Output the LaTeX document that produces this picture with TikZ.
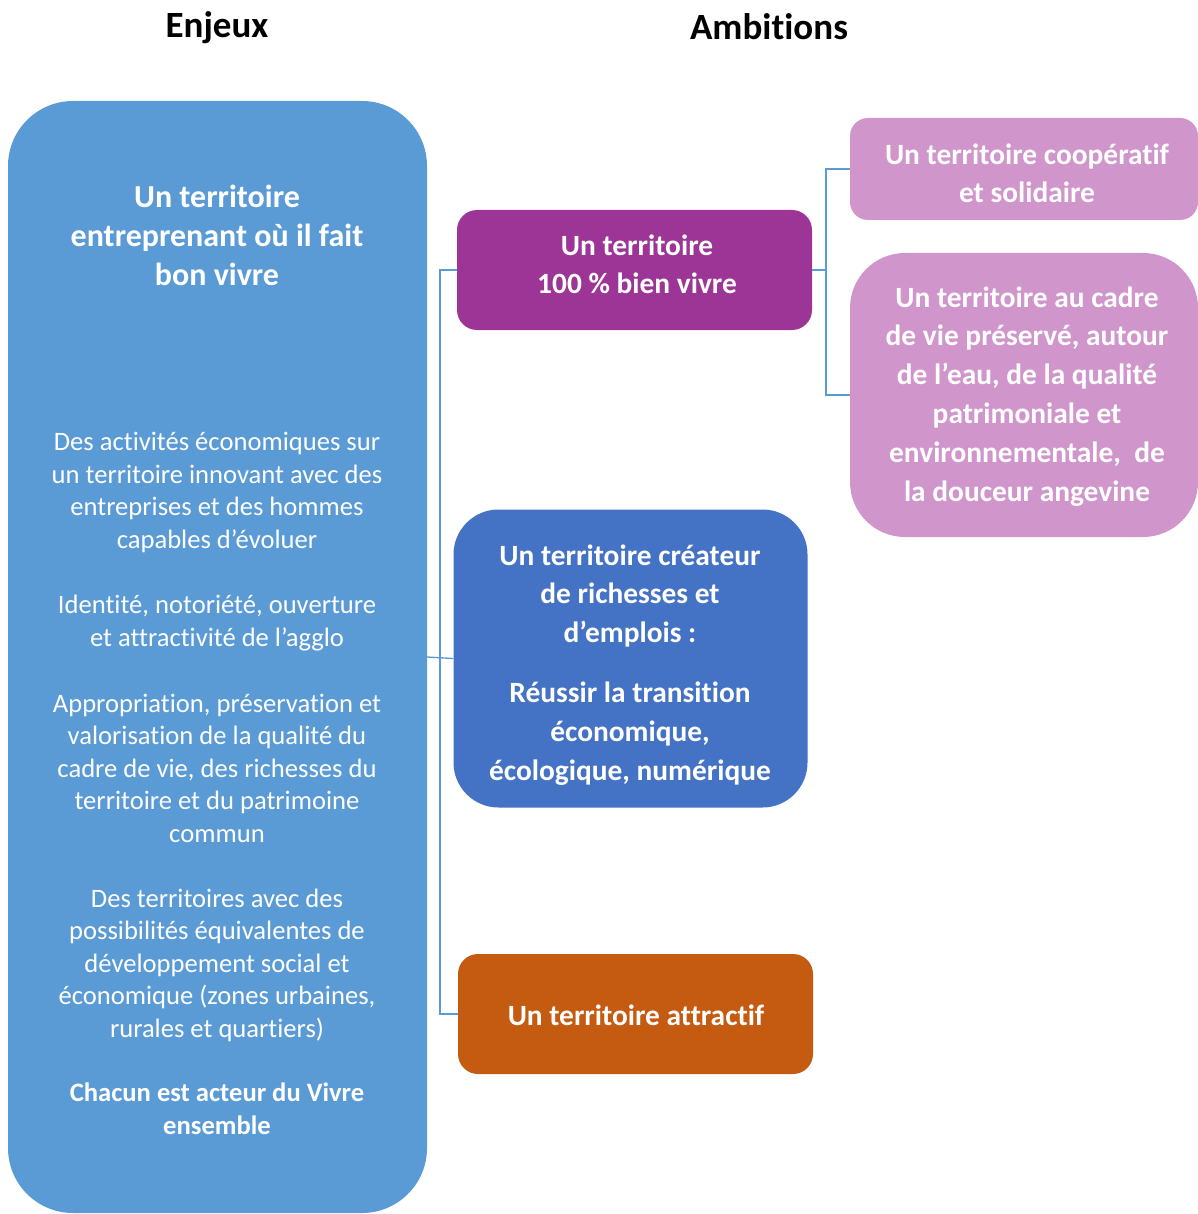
\documentclass[tikz,border=0pt]{standalone}
\usepackage{fontspec}
\setmainfont{Carlito}[Ligatures=CommonOff]
\usetikzlibrary{positioning}
\definecolor{enjeuBlue}{HTML}{5B9BD5}
\definecolor{vivrePurple}{HTML}{9C3595}
\definecolor{coopPink}{HTML}{D095CB}
\definecolor{richBlue}{HTML}{4472C4}
\definecolor{attrOrange}{HTML}{C55A11}
\tikzset{
  heading/.style  = {font=\fontsize{37}{44}\selectfont\bfseries, anchor=base, inner sep=0pt},
  panel/.style    = {rectangle, draw=none, inner sep=0pt},
  bigtext/.style  = {text=white, align=center, anchor=base, inner sep=0pt,
                     font=\fontsize{32}{39}\selectfont\bfseries},
  boxtext/.style  = {bigtext, font=\fontsize{29.4}{38.8}\selectfont\bfseries},
  smalltext/.style= {text=white, align=center, anchor=base, inner sep=0pt,
                     font=\fontsize{26.6}{32.5}\selectfont},
  link/.style     = {draw=enjeuBlue, line width=1.3pt}
}

\begin{document}
\begin{tikzpicture}[x=1pt, y=-1pt]
  \useasboundingbox (0,0) rectangle (1197,1214);

  % titres
  \node[heading] (enjeux)    at (217,38) {Enjeux};
  \node[heading] (ambitions) at (769,40) {Ambitions};

  % enjeux (base = derniere ligne)
  \node[panel, fill=enjeuBlue, rounded corners=65pt,
        minimum width=419pt, minimum height=1112pt] (leftBox) at (217.5,657) {};
  \node[bigtext] (enjeuTitle) at (217,286)
    {Un territoire\\entreprenant où il fait\\bon vivre};
  \node[smalltext] (enjeuEco) at (217,548)
    {Des activités économiques sur\\un territoire innovant avec des\\entreprises et des hommes\\capables d’évoluer};
  \node[smalltext] (enjeuIdent) at (217,646)
    {Identité, notoriété, ouverture\\et attractivité de l’agglo};
  \node[smalltext] (enjeuCadre) at (217,842)
    {Appropriation, préservation et\\valorisation de la qualité du\\cadre de vie, des richesses du\\territoire et du patrimoine\\commun};
  \node[smalltext] (enjeuEgal) at (217,1037)
    {Des territoires avec des\\possibilités équivalentes de\\développement social et\\économique (zones urbaines,\\rurales et quartiers)};
  \node[smalltext, font=\fontsize{26.6}{32.5}\selectfont\bfseries] (enjeuActeur) at (217,1134)
    {Chacun est acteur du Vivre\\ensemble};

  % ambitions
  \node[panel, fill=vivrePurple, rounded corners=20pt,
        minimum width=355pt, minimum height=120pt] (bienVivre) at (634.5,270) {};
  \node[boxtext] (bienVivreText) at (637,294) {Un territoire\\100 \% bien vivre};

  \node[panel, fill=richBlue, rounded corners=45pt,
        minimum width=354pt, minimum height=298pt] (richesses) at (630.5,658.5) {};
  \node[boxtext] (richesText) at (630,780)
    {Un territoire créateur\\de richesses et\\d’emplois :\\[21pt]Réussir la transition\\économique,\\écologique, numérique};

  \node[panel, fill=attrOrange, rounded corners=20pt,
        minimum width=355pt, minimum height=120pt] (attractif) at (635.5,1014) {};
  \node[boxtext] (attractifText) at (636,1025) {Un territoire attractif};

  % sous-ambitions
  \node[panel, fill=coopPink, rounded corners=18pt,
        minimum width=348pt, minimum height=102pt] (coop) at (1024,169) {};
  \node[boxtext] (coopText) at (1027,203) {Un territoire coopératif\\et solidaire};

  \node[panel, fill=coopPink, rounded corners=55pt,
        minimum width=348pt, minimum height=284pt] (cadre) at (1024,395) {};
  \node[boxtext] (cadreText) at (1027,501)
    {Un territoire au cadre\\de vie préservé, autour\\de l’eau, de la qualité\\patrimoniale et\\environnementale,\ \ de\\la douceur angevine};

  % liens
  \coordinate (trunkL) at (440,658.5);
  \coordinate (trunkR) at (826,270);
  \draw[link] (leftBox.east) -- (richesses.west);
  \draw[link] (bienVivre.west) -| (trunkL) |- (attractif.west);
  \draw[link] (bienVivre.east) -- (trunkR);
  \draw[link] (coop.west) -| (trunkR) |- (cadre.west);
\end{tikzpicture}
\end{document}
